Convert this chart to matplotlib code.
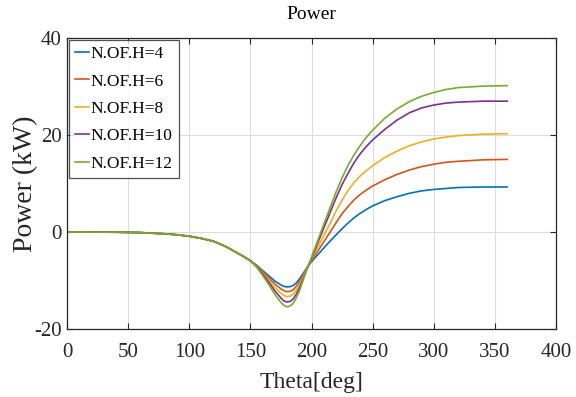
import numpy as np
import matplotlib
matplotlib.use("Agg")
import matplotlib.pyplot as plt

# angle samples (deg) and power (kW) for each harmonic count
theta = [0, 20, 40, 60, 80, 90, 100, 110, 120, 130, 140, 145, 150,
         155, 160, 165, 170, 175, 177.5, 180, 182.5, 185, 187.5, 190, 192.5, 195, 197.5,
         200, 205, 210, 215, 220, 225, 230, 235, 240, 245, 250,
         260, 270, 280, 290, 300, 310, 320, 340, 360]

common = [0.0, 0.0, -0.02, -0.1, -0.35, -0.55, -0.85, -1.3, -1.9, -3.0, -4.4, -5.1, -5.9]

p_h4 = common + [-6.8, -7.9, -9.0, -10.1, -10.9, -11.2, -11.3, -11.25, -11.0, -10.5, -9.7, -8.8, -7.8, -6.9,
                 -6.1, -4.7, -3.3, -1.9, -0.6, 0.7, 1.9, 3.0, 3.9, 4.7, 5.4,
                 6.5, 7.3, 8.0, 8.5, 8.8, 9.0, 9.2, 9.3, 9.3]
p_h6 = common + [-6.9, -8.1, -9.4, -10.7, -11.7, -12.1, -12.3, -12.2, -11.9, -11.2, -10.3, -9.2, -8.0, -6.9,
                 -5.8, -4.0, -2.0, -0.1, 1.9, 3.8, 5.3, 6.7, 7.8, 8.7, 9.5,
                 10.8, 11.9, 12.8, 13.5, 14.0, 14.4, 14.6, 14.9, 15.0]
p_h8 = common + [-7.0, -8.4, -9.9, -11.4, -12.6, -13.1, -13.3, -13.2, -12.8, -12.0, -11.0, -9.7, -8.2, -6.9,
                 -5.6, -3.2, -0.7, 1.7, 4.3, 6.6, 8.6, 10.3, 11.6, 12.7, 13.7,
                 15.4, 16.7, 17.8, 18.6, 19.2, 19.6, 19.9, 20.2, 20.3]
p_h10 = common + [-7.1, -8.6, -10.3, -12.1, -13.6, -14.2, -14.4, -14.3, -13.8, -12.8, -11.6, -10.1, -8.4, -6.9,
                  -5.4, -2.3, 0.8, 3.9, 7.0, 9.8, 12.2, 14.4, 16.2, 17.7, 19.0,
                  21.2, 23.1, 24.6, 25.6, 26.2, 26.6, 26.8, 27.0, 27.0]
p_h12 = common + [-7.2, -8.9, -10.8, -12.8, -14.5, -15.1, -15.4, -15.25, -14.7, -13.6, -12.2, -10.4, -8.5, -6.8,
                  -5.2, -1.8, 1.6, 4.9, 8.2, 11.2, 13.8, 16.0, 17.9, 19.6, 21.0,
                  23.5, 25.4, 26.9, 28.0, 28.8, 29.4, 29.8, 30.1, 30.2]

labels = ["N.OF.H=4", "N.OF.H=6", "N.OF.H=8", "N.OF.H=10", "N.OF.H=12"]
colors = ["#0072BD", "#D95319", "#EDB120", "#7E2F8E", "#77AC30"]

plt.rcParams["font.family"] = ["Liberation Serif", "DejaVu Serif"]
plt.rcParams["axes.unicode_minus"] = False

fig = plt.figure(figsize=(5.76, 3.97), dpi=100)
ax = fig.add_axes([0.1163, 0.171, 0.849, 0.733])

for y, lab, c in zip([p_h4, p_h6, p_h8, p_h10, p_h12], labels, colors):
    ax.plot(theta, y, color=c, linewidth=1.2, label=lab)

ax.set_xlim(0, 400)
ax.set_ylim(-20, 40)
ax.set_xticks(np.arange(0, 401, 50))
ax.set_yticks([-20, 0, 20, 40])
ax.grid(True, color="#dcdcdc", linewidth=0.8)
ax.set_axisbelow(True)
ax.tick_params(direction="in", top=True, right=True, labelsize=15,
               length=4, width=0.8, colors="#262626")
ax.tick_params(axis="x", pad=10)
ax.tick_params(axis="y", pad=4)
for s in ax.spines.values():
    s.set_color("#262626")
    s.set_linewidth(0.9)

ax.set_title("Power", fontsize=14, pad=14)
ax.set_xlabel("Theta[deg]", fontsize=17, labelpad=7, color="#262626")
ax.set_ylabel("Power (kW)", fontsize=20, labelpad=-3, color="#262626")

leg = ax.legend(loc="upper left", fontsize=12.5, frameon=True, fancybox=False,
                borderaxespad=0.1, handlelength=0.8, handletextpad=0.1,
                labelspacing=0.65, borderpad=0.35)
leg.get_frame().set_edgecolor("#262626")
leg.get_frame().set_linewidth(0.9)

fig.savefig("out.png", dpi=100)
